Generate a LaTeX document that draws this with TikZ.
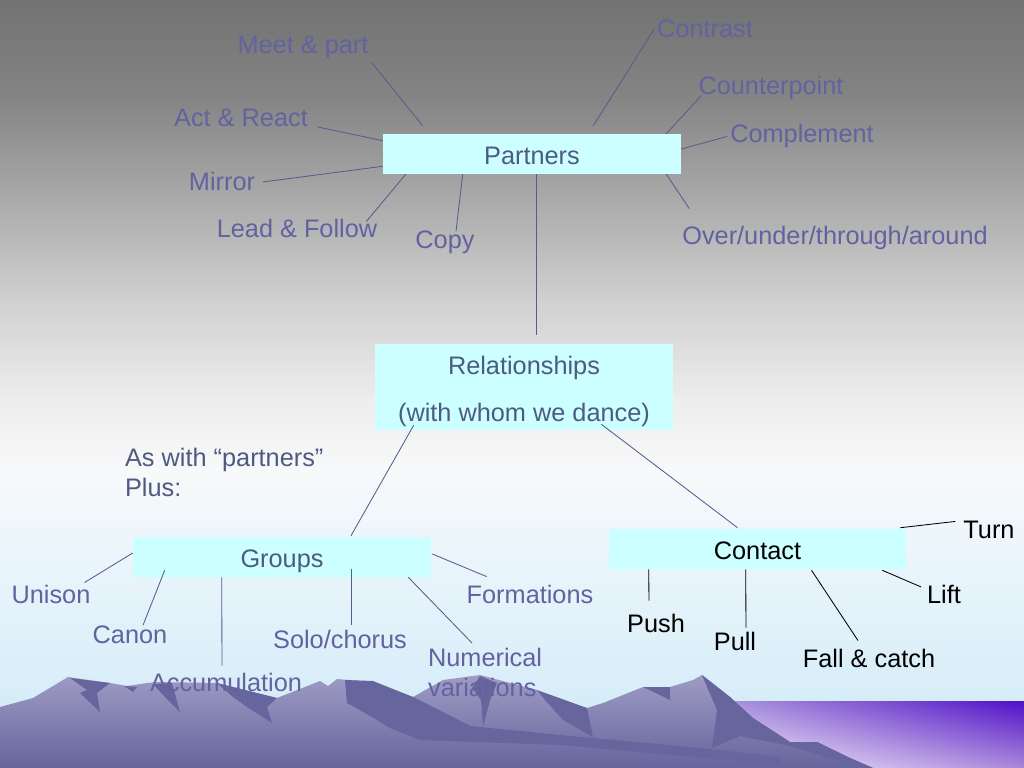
\documentclass[tikz,border=0pt]{standalone}
\usepackage{fontspec}
\setmainfont{Liberation Sans}
\usepackage{tikz}
\usetikzlibrary{calc,shadings}
\definecolor{boxcyan}{HTML}{CCFFFF}
\definecolor{boxslate}{HTML}{4E5A80}
\definecolor{wordlilac}{HTML}{6262A0}
\definecolor{linkslate}{HTML}{5A5A8E}
\definecolor{bggray}{HTML}{727272}
\definecolor{bggraya}{HTML}{858585}
\definecolor{bggrayb}{HTML}{AAAAAA}
\definecolor{bggrayc}{HTML}{D0D0D0}
\definecolor{bggrayd}{HTML}{EDEDED}
\definecolor{bgpale}{HTML}{F8F9FA}
\definecolor{bgmist}{HTML}{EAF5FB}
\definecolor{bgsky}{HTML}{D6EDF8}
\definecolor{mtnlight}{HTML}{9E9CC4}
\definecolor{mtndark}{HTML}{66649C}
\definecolor{mtnshade}{HTML}{67659D}
\definecolor{glowdeep}{HTML}{5010C8}
\definecolor{glowmid}{HTML}{A890DC}
\definecolor{glowpale}{HTML}{F6F0FA}
\definecolor{glowside}{HTML}{A888DA}
% the path is mapped onto the middle of the shading (25bp to 75bp)
\pgfdeclareverticalshading{slidebg}{100bp}{color(0bp)=(bgsky); color(29.4bp)=(bgsky); color(38.5bp)=(bgmist);
  color(44.4bp)=(bgpale); color(49bp)=(bggrayd); color(55.5bp)=(bggrayc); color(62bp)=(bggrayb); color(68.5bp)=(bggraya);
  color(75bp)=(bggray); color(100bp)=(bggray)}
\tikzset{
  mapbox/.style={fill=boxcyan, text=boxslate, minimum width=7.45cm, minimum height=1cm, inner sep=0pt, font=\fontsize{18}{21.6}\selectfont},
  mapline/.style={mapbox, text height=15.5pt, text depth=0pt},
  mapword/.style={text=wordlilac, anchor=base, inner sep=2pt, font=\fontsize{18}{21.6}\selectfont},
  touchword/.style={mapword, text=black},
  maplink/.style={draw=linkslate, line width=0.6pt},
  touchlink/.style={draw=black, line width=0.6pt}
}
\begin{document}
\begin{tikzpicture}[x=0.025cm, y=-0.025cm]
  \useasboundingbox (0,0) rectangle (1024,768);
  % slide background
  \shade[shading=slidebg] (0,0) rectangle (1024,768);
  \shade[upper right=glowdeep, upper left=glowmid, lower left=glowpale, lower right=glowside]
    (735,701) rectangle (1024,768);
  % mountains
  \shade[top color=mtnlight, bottom color=mtndark] (0,707) -- (33,698) -- (68,677) -- (110,683) -- (127,686)
    -- (147,683) -- (157,682) -- (217,683) -- (277,698) -- (320,681) -- (328,686) -- (337,679) -- (373,682)
    -- (413,697) -- (443,680) -- (480,675) -- (537,690) -- (557,702) -- (587,708) -- (603,703) -- (643,687)
    -- (670,687) -- (693,680) -- (702,675) -- (730,697) -- (753,718) -- (790,742) -- (817,742) -- (850,758)
    -- (873,768) -- (0,768) -- cycle;
  \fill[mtnshade] (70,678) -- (110,683) -- (97,693) -- (100,712) -- (80,693) -- (87,690) -- cycle;
  \fill[mtnshade] (124,686) -- (133,692) -- (137,687) -- cycle;
  \fill[mtnshade] (153,684) -- (172,683) -- (180,712) -- (163,695) -- cycle;
  \fill[mtnshade] (217,683) -- (277,698) -- (267,707) -- (272,723) -- (247,707) -- (233,697) -- cycle;
  \fill[mtnshade] (345,680) -- (373,681) -- (413,697) -- (470,726) -- (425,722) -- (390,728) -- (365,713) -- (347,703) -- cycle;
  \fill[mtnshade] (480,676) -- (497,683) -- (490,700) -- (483,727) -- (481,700) -- (472,688) -- cycle;
  \fill[mtnshade] (537,690) -- (587,708) -- (593,737) -- (563,720) -- (545,700) -- cycle;
  \fill[mtnshade] (643,687) -- (670,687) -- (670,700) -- (658,694) -- cycle;
  \fill[mtnshade] (413,697) -- (470,726) -- (560,735) -- (700,748) -- (780,757) -- (780,765) -- (560,745) -- (420,740) -- (390,728) -- cycle;
  \fill[mtnshade] (702,675) -- (730,697) -- (753,718) -- (790,742) -- (817,742) -- (850,758) -- (873,768) -- (860,768)
    -- (790,746) -- (740,736) -- (712,748) -- (717,710) -- (707,687) -- cycle;

  % boxes
  \node[mapline] (partners) at (532,154) {Partners};
  \node[mapbox, minimum height=2.15cm, align=center] (rel) at (524,387) {\rule{0pt}{19pt}Relationships\\[12pt](with whom we dance)};
  \node[mapline] (groups) at (282,557) {Groups};
  \node[mapline, minimum width=7.425cm, text=black] (contact) at (757.5,549) {Contact};

  % partners
  \node[mapword] (meet) at (303,54) {Meet \& part};
  \node[mapword] (act) at (241,127) {Act \& React};
  \node[mapword] (mirror) at (222,191) {Mirror};
  \node[mapword] (lead) at (297,237) {Lead \& Follow};
  \node[mapword] (copy) at (445,248) {Copy};
  \node[mapword] (contrast) at (705,38) {Contrast};
  \node[mapword] (counter) at (771,95) {Counterpoint};
  \node[mapword] (complement) at (802,143) {Complement};
  \node[mapword] (over) at (835,244) {Over/under/through/around};
  \draw[maplink] ($(partners.north west)+(40,-8)$) -- (meet.south east);
  \draw[maplink] ($(partners.north west)+(0,7)$) -- ($(act.base east)+(7,0)$);
  \draw[maplink] ($(partners.south west)+(0,-8)$) -- ($(mirror.east)+(5,0)$);
  \draw[maplink] ($(partners.south west)+(23,0)$) -- ($(lead.north east)+(-14,6)$);
  \draw[maplink] ($(partners.south west)+(80,0)$) -- ($(copy.north)+(11,4)$);
  \draw[maplink] ($(partners.north east)+(-88,-8)$) -- (contrast.west);
  \draw[maplink] ($(partners.north east)+(-15,0)$) -- ($(counter.west)+(6,7)$);
  \draw[maplink] ($(partners.east)+(0,-5)$) -- (complement.west);
  \draw[maplink] ($(partners.south east)+(-15,0)$) -- ($(over.north west)+(10,-14)$);
  \draw[maplink] ($(partners.south)+(4,0)$) -- ($(rel.north)+(12,-9)$);

  % relationships
  \draw[maplink] ($(rel.south west)+(39,-5)$) -- ($(groups.north)+(69,-1)$);
  \draw[maplink] ($(rel.south east)+(-72,-6)$) -- ($(contact.north)+(-20,-1)$);
  \node[mapword, text=boxslate, anchor=north west, align=left] (aswith) at (122,445) {As with “partners”\\Plus:};

  % groups
  \node[mapword] (unison) at (51,603) {Unison};
  \node[mapword] (canon) at (130,643) {Canon};
  \node[mapword] (accum) at (226,691) {Accumulation};
  \node[mapword] (solo) at (340,648) {Solo/chorus};
  \node[mapword] (form) at (530,603) {Formations};
  \node[mapword, anchor=north west, align=left] (num) at (425,645) {Numerical\\variations};
  \draw[maplink] ($(groups.west)+(0,-4)$) -- ($(unison.north east)+(-9,1)$);
  \draw[maplink] ($(groups.south west)+(32,-7)$) -- ($(canon.north)+(13,3)$);
  \draw[maplink] ($(groups.south west)+(89,0)$) -- ($(accum.north)+(-4,-4)$);
  \draw[maplink] ($(groups.south)+(69,-8)$) -- ($(solo.north)+(11,-2)$);
  \draw[maplink] ($(groups.east)+(1,-3)$) -- ($(form.north west)+(23,-5)$);
  \draw[maplink] ($(groups.south east)+(-23,0)$) -- ($(num.north west)+(47,-2)$);

  % contact
  \node[touchword] (turn) at (989,538) {Turn};
  \node[touchword] (lift) at (944,603) {Lift};
  \node[touchword] (fall) at (869,667) {Fall \& catch};
  \node[touchword] (pull) at (735,650) {Pull};
  \node[touchword] (push) at (656,632) {Push};
  \draw[touchlink] ($(contact.north east)+(-6,-1)$) -- ($(turn.west)+(-5,-8)$);
  \draw[touchlink] ($(contact.south east)+(-24,1)$) -- ($(lift.west)+(-3,-7)$);
  \draw[touchlink] ($(contact.south)+(54,1)$) -- ($(fall.north)+(-11,-5)$);
  \draw[touchlink] ($(contact.south west)+(137,0)$) -- ($(pull.north)+(11,-1)$);
  \draw[touchlink] ($(contact.south west)+(40,0)$) -- ($(push.north)+(-7,-10)$);
\end{tikzpicture}
\end{document}
